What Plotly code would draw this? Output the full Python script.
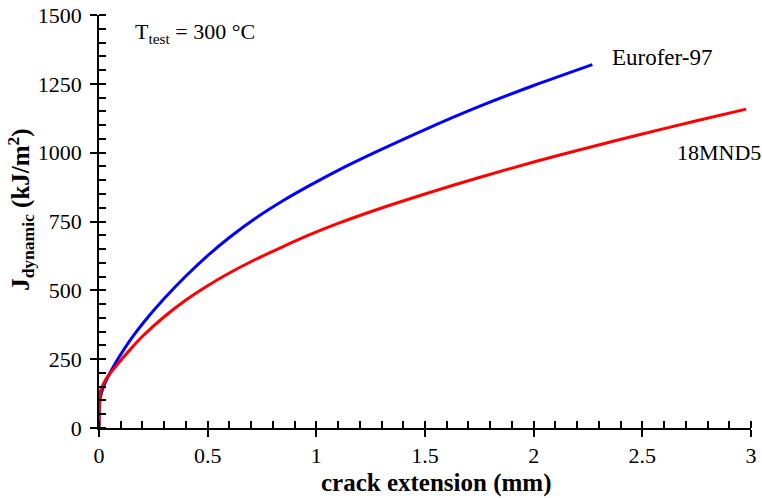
import plotly.graph_objects as go

# Eurofer-97 (blue) J-R curve
eurofer_x = [0, 0.002, 0.005, 0.012, 0.028, 0.043, 0.07, 0.104, 0.15, 0.204, 0.3, 0.4, 0.5,
             0.6, 0.717, 0.85, 0.97, 1.1, 1.27, 1.5, 1.75, 2.0, 2.27]
eurofer_y = [0, 75, 105, 130, 164, 189, 228, 272, 326, 382, 470, 552, 626,
             692, 760, 827, 881, 936, 1001, 1084, 1168, 1244, 1320]

# 18MND5 (red) J-R curve
mnd_x = [0, 0.001, 0.003, 0.006, 0.012, 0.028, 0.043, 0.07, 0.104, 0.15, 0.204, 0.3, 0.4, 0.5,
         0.6, 0.717, 0.85, 0.97, 1.1, 1.27, 1.5, 1.75, 2.0, 2.25, 2.5, 2.75, 2.978]
mnd_y = [0, 60, 100, 128, 145, 172, 190, 217, 249, 291, 336, 404, 465, 517,
         563, 611, 660, 702, 743, 791, 850, 910, 966, 1018, 1068, 1116, 1158]

x_ticks = [0, 0.5, 1, 1.5, 2, 2.5, 3]
x_labels = ["0", "0.5", "1", "1.5", "2", "2.5", "3"]
y_ticks = [0, 250, 500, 750, 1000, 1250, 1500]
y_labels = ["0", "250", "500", "750", "1000", "1250", "1500"]

FONT = "Liberation Serif, Times New Roman, serif"
FS = 22
FT = 25

fig = go.Figure()
fig.add_trace(go.Scatter(x=eurofer_x, y=eurofer_y, mode="lines",
                         line=dict(color="#0000FF", width=3, shape="spline", smoothing=0.8),
                         showlegend=False))
fig.add_trace(go.Scatter(x=mnd_x, y=mnd_y, mode="lines",
                         line=dict(color="#FF0000", width=3, shape="spline", smoothing=0.8),
                         showlegend=False))

axis_common = dict(showgrid=False, zeroline=False, showline=True, linecolor="black", linewidth=1.5,
                   ticks="outside", ticklen=7, tickwidth=1.5, tickcolor="black", automargin=False,
                   tickfont=dict(family=FONT, size=FS, color="black"))

fig.update_layout(
    width=762, height=498,
    margin=dict(l=99, r=11, t=15, b=70, autoexpand=False),
    plot_bgcolor="white", paper_bgcolor="white",
    font=dict(family=FONT, size=FS, color="black"),
    xaxis=dict(range=[0, 3], tickvals=x_ticks, ticktext=x_labels,
               minor=dict(dtick=0.1, ticks="inside", ticklen=7, tickwidth=1.5, tickcolor="black"),
               **axis_common),
    yaxis=dict(range=[0, 1500], tickvals=y_ticks, ticktext=y_labels,
               minor=dict(dtick=50, ticks="inside", ticklen=7, tickwidth=1.5, tickcolor="black"),
               ticklabelstandoff=4,
               **axis_common),
    xaxis2=dict(range=[0, 3], overlaying="x", tickvals=x_ticks, showticklabels=False,
                showgrid=False, zeroline=False, showline=False, ticks="inside", ticklen=7,
                tickwidth=1.5, tickcolor="black", side="bottom", automargin=False),
    yaxis2=dict(range=[0, 1500], overlaying="y", tickvals=y_ticks, showticklabels=False,
                showgrid=False, zeroline=False, showline=False, ticks="inside", ticklen=7,
                tickwidth=1.5, tickcolor="black", side="left", automargin=False),
)
# invisible trace to anchor the overlay axes
fig.add_trace(go.Scatter(x=[None], y=[None], xaxis="x2", yaxis="y2", showlegend=False, hoverinfo="skip"))

fig.add_annotation(x=0.517, y=-0.133, xref="paper", yref="paper", showarrow=False,
                   text="<b>crack extension (mm)</b>", font=dict(family=FONT, size=FT),
                   xanchor="center", yanchor="middle")
fig.add_annotation(x=-0.12, y=0.53, xref="paper", yref="paper", showarrow=False, textangle=-90,
                   text="<b>J<sub>dynamic</sub> (kJ/m<sup>2</sup>)</b>", font=dict(family=FONT, size=FT),
                   xanchor="center", yanchor="middle")
fig.add_annotation(x=0.052, y=0.956, xref="paper", yref="paper", showarrow=False,
                   text="T<sub>test</sub> = 300 °C", font=dict(family=FONT, size=FS),
                   xanchor="left", yanchor="middle")
fig.add_annotation(x=2.35, y=1344, xref="x", yref="y", showarrow=False,
                   text="Eurofer-97", font=dict(family=FONT, size=23),
                   xanchor="left", yanchor="middle")
fig.add_annotation(x=2.648, y=999, xref="x", yref="y", showarrow=False,
                   text="18MND5", font=dict(family=FONT, size=FS),
                   xanchor="left", yanchor="middle")

fig.write_html("out.html")
